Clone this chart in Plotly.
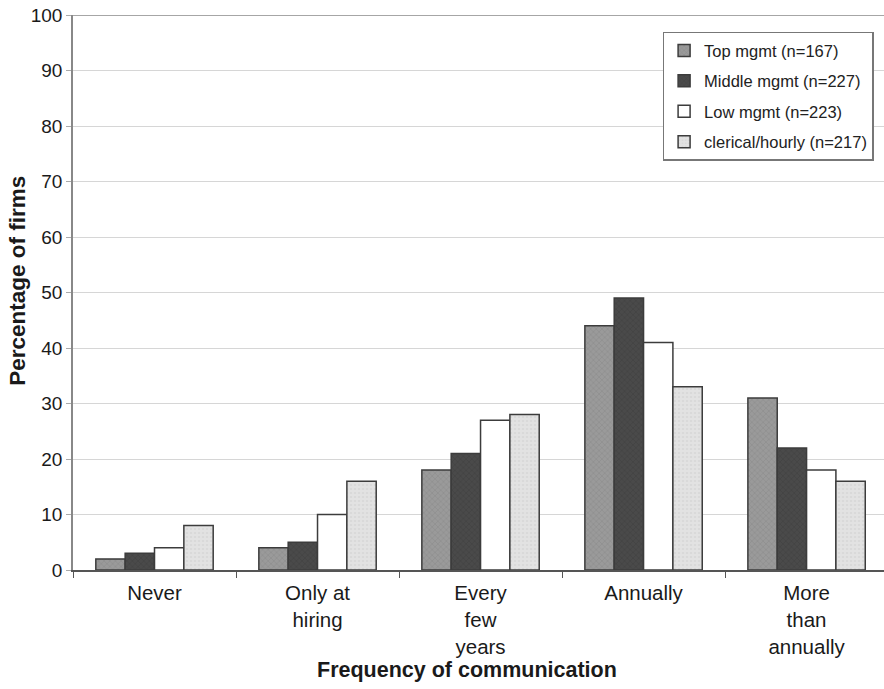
import plotly.graph_objects as go

categories = ["Never", "Only at<br>hiring", "Every<br>few<br>years", "Annually", "More<br>than<br>annually"]
series_names = ["Top mgmt (n=167)", "Middle mgmt (n=227)", "Low mgmt (n=223)", "clerical/hourly (n=217)"]
top_mgmt = [2, 4, 18, 44, 31]
middle_mgmt = [3, 5, 21, 49, 22]
low_mgmt = [4, 10, 27, 41, 18]
clerical = [8, 16, 28, 33, 16]
y_ticks = [0, 10, 20, 30, 40, 50, 60, 70, 80, 90, 100]

series = [top_mgmt, middle_mgmt, low_mgmt, clerical]
fills = ["#9a9a9a", "#4a4a4a", "#ffffff", "#e2e2e2"]
pattern_fg = ["#7e7e7e", "#3a3a3a", "#ffffff", "#cfcfcf"]
pattern_shape = ["x", "x", "", "."]

fig = go.Figure()
for i, (name, vals, fc, pf, ps) in enumerate(zip(series_names, series, fills, pattern_fg, pattern_shape)):
    fig.add_trace(go.Bar(
        name=name, x=categories, y=vals, legendgroup=f"g{i}",
        marker=dict(color=fc, line=dict(color="#3c3c3c", width=1.5),
                    pattern=dict(shape=ps, fgcolor=pf, bgcolor=fc, size=4, solidity=0.3)),
    ))

fig.update_layout(
    width=884, height=689,
    margin=dict(l=73, r=0, t=15, b=119),
    paper_bgcolor="white", plot_bgcolor="white",
    barmode="group", bargap=0.28, bargroupgap=0,
    font=dict(family="Liberation Sans, Arial, sans-serif", size=19, color="#1a1a1a"),
    showlegend=True,
    legend=dict(x=0.727, y=0.97, xanchor="left", yanchor="top",
                bgcolor="white", bordercolor="#777777", borderwidth=1.5,
                font=dict(size=16.5, color="#222222"), tracegroupgap=6, itemwidth=30,
                traceorder="grouped"),
    xaxis=dict(range=[-0.5, 4.475], showline=True, linecolor="#555555", linewidth=1.5,
               ticks="outside", tickson="boundaries", ticklen=6, tickcolor="#555555",
               tickfont=dict(size=20.5), ticklabelstandoff=4,
               showgrid=False, fixedrange=True),
    yaxis=dict(range=[0, 100], tickvals=y_ticks, showline=True, linecolor="#888888", linewidth=1.5,
               ticks="outside", ticklen=5, tickcolor="#aaaaaa",
               tickfont=dict(size=19),
               gridcolor="#d6d6d6", gridwidth=1,
               zeroline=False),
    annotations=[
        dict(text="<b>Frequency of communication</b>", xref="paper", yref="paper",
             x=0.486, y=-0.18, xanchor="center", yanchor="middle", showarrow=False,
             font=dict(size=21.5)),
        dict(text="<b>Percentage of firms</b>", xref="paper", yref="paper",
             x=-0.068, y=0.521, xanchor="center", yanchor="middle", showarrow=False,
             textangle=-90, font=dict(size=22.5)),
    ],
    shapes=[dict(type="line", xref="paper", yref="y", x0=0, x1=1, y0=100, y1=100,
                 line=dict(color="#888888", width=1.5))],
)

fig.write_html("out.html")
